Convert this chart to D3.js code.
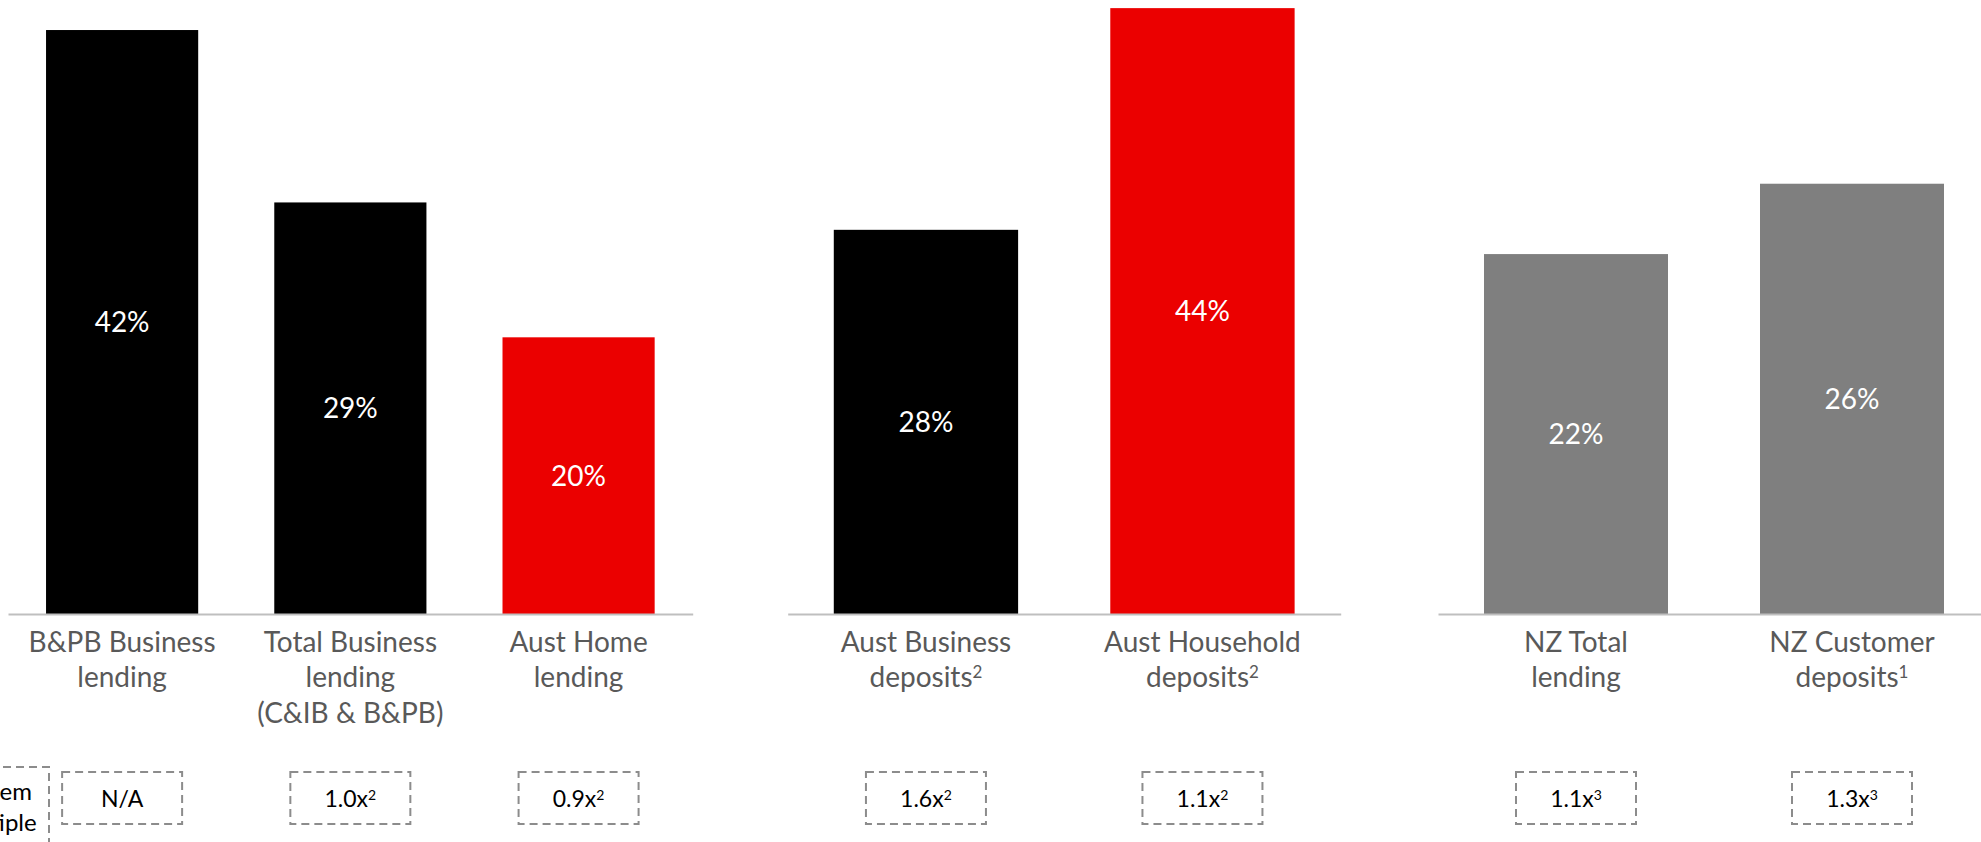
<!DOCTYPE html>
<html>
<head>
<meta charset="utf-8">
<script src="https://cdn.jsdelivr.net/npm/d3@7"></script>
<style>
  html, body { margin: 0; padding: 0; background: #ffffff; }
  svg { display: block; font-family: "Lato", "Liberation Sans", sans-serif; }
</style>
</head>
<body>
<svg id="chart" width="1981" height="842"></svg>
<script>
// ---------------- DATA ----------------
// "|" separates label lines, "^" marks a superscript footnote
const lendingCategories = ["B&PB Business|lending", "Total Business|lending|(C&IB & B&PB)", "Aust Home|lending"];
const lendingValues = [42, 29.6, 19.9];
const lendingLabels = ["42%", "29%", "20%"];
const lendingMultiples = ["N/A", "1.0x^2", "0.9x^2"];

const depositCategories = ["Aust Business|deposits^2", "Aust Household|deposits^2"];
const depositValues = [27.9, 44];
const depositLabels = ["28%", "44%"];
const depositMultiples = ["1.6x^2", "1.1x^2"];

const nzCategories = ["NZ Total|lending", "NZ Customer|deposits^1"];
const nzValues = [22, 26.3];
const nzLabels = ["22%", "26%"];
const nzMultiples = ["1.1x^3", "1.3x^3"];

const rowHeaderLines = ["System", "multiple"];

// ---------------- STYLE / LAYOUT ----------------
const BLACK = "#000000", RED = "#eb0000", GREY = "#7f7f7f";
const panels = [
  { cats: lendingCategories, vals: lendingValues, labels: lendingLabels, mults: lendingMultiples,
    colors: [BLACK, BLACK, RED], range: [8, 692.7], yMax: 44.16 },
  { cats: depositCategories, vals: depositValues, labels: depositLabels, mults: depositMultiples,
    colors: [BLACK, RED], range: [787.7, 1340.7], yMax: 44.59 },
  { cats: nzCategories, vals: nzValues, labels: nzLabels, mults: nzMultiples,
    colors: [GREY, GREY], range: [1438, 1990], yMax: 37.53 }
];
const baseY = 614;
const labelBase = 651.5, lineGap = 35.5;
const boxW = 120, boxH = 52, boxY = 772;

const svg = d3.select("#chart");

function richText(g, str, x, y, size, fill, supSize, supDy) {
  const parts = str.split("^");
  const t = g.append("text").attr("x", x).attr("y", y)
    .attr("text-anchor", "middle").attr("font-size", size).attr("fill", fill);
  t.append("tspan").text(parts[0]);
  if (parts.length > 1) {
    t.append("tspan").attr("font-size", supSize).attr("dy", supDy).text(parts[1]);
  }
  return t;
}

panels.forEach(p => {
  const x = d3.scaleBand().domain(p.cats).range(p.range).paddingInner(1 / 3).paddingOuter(1 / 6);
  const y = d3.scaleLinear().domain([0, p.yMax]).range([baseY, 0]);
  const color = d3.scaleOrdinal().domain(p.cats).range(p.colors);
  const g = svg.append("g");

  const rows = p.cats.map((c, i) => ({ c, v: p.vals[i], l: p.labels[i], m: p.mults[i] }));

  // bars
  g.selectAll("rect.bar").data(rows).join("rect")
    .attr("class", "bar")
    .attr("x", d => x(d.c))
    .attr("width", x.bandwidth())
    .attr("y", d => y(d.v))
    .attr("height", d => y(0) - y(d.v))
    .attr("fill", d => color(d.c));

  // value labels in middle of bars
  g.selectAll("text.val").data(rows).join("text")
    .attr("class", "val")
    .attr("x", d => x(d.c) + x.bandwidth() / 2)
    .attr("y", d => (y(d.v) + y(0)) / 2 + 10)
    .attr("text-anchor", "middle")
    .attr("font-size", 28)
    .attr("fill", "#ffffff")
    .text(d => d.l);

  // axis baseline
  const axis = d3.axisBottom(x).tickSize(0).tickSizeOuter(0).tickFormat("");
  const ag = g.append("g").attr("transform", `translate(0,${baseY})`).call(axis);
  ag.select(".domain").attr("stroke", "#bfbfbf").attr("stroke-width", 2);
  ag.selectAll(".tick").remove();

  // category labels
  rows.forEach(d => {
    const cx = x(d.c) + x.bandwidth() / 2;
    d.c.split("|").forEach((line, li) => {
      richText(g, line, cx, labelBase + li * lineGap, 28, "#595959", 17, -9);
    });
  });

  // dashed multiple boxes
  rows.forEach(d => {
    const cx = x(d.c) + x.bandwidth() / 2;
    g.append("rect")
      .attr("x", cx - boxW / 2).attr("y", boxY)
      .attr("width", boxW).attr("height", boxH)
      .attr("fill", "none").attr("stroke", "#8c8c8c")
      .attr("stroke-width", 2).attr("stroke-dasharray", "8,5");
    richText(g, d.m, cx, boxY + boxH / 2 + 8.5, 23, "#000000", 14, -7);
  });
});

// partially visible row header box at the left edge (cut off as in the original)
const hg = svg.append("g");
hg.append("rect")
  .attr("x", -62).attr("y", 767).attr("width", 111).attr("height", 110)
  .attr("fill", "none").attr("stroke", "#8c8c8c")
  .attr("stroke-width", 2).attr("stroke-dasharray", "8,5");
rowHeaderLines.forEach((line, i) => {
  hg.append("text").attr("x", -6).attr("y", 800 + i * 30.7)
    .attr("text-anchor", "middle").attr("font-size", 24).attr("fill", "#000000")
    .text(line);
});
</script>
</body>
</html>
